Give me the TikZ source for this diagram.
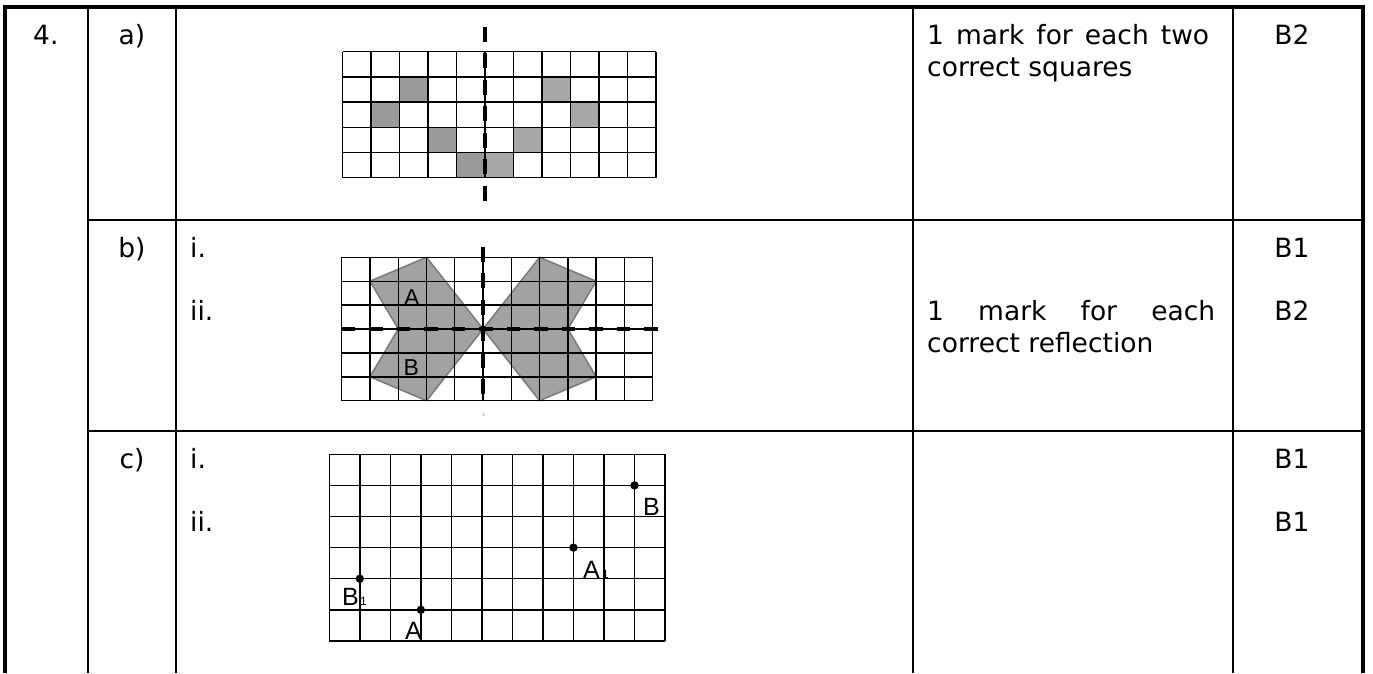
\documentclass[tikz,border=0pt]{standalone}
\usepackage{fontspec}
\setmainfont{DejaVu Sans}
\newfontfamily\labfont{Liberation Sans}
\definecolor{sqdark}{HTML}{9A9A9A}
\definecolor{sqlight}{HTML}{A8A8A8}
\definecolor{polyfill}{HTML}{A2A2A2}
\definecolor{polyedge}{HTML}{7A7A7A}
\begin{document}
\begin{tikzpicture}[x=1pt,y=-1pt,
  txt/.style={font=\fontsize{26.5}{31}\selectfont, inner sep=0pt, anchor=base west},
  txtc/.style={font=\fontsize{26.5}{31}\selectfont, inner sep=0pt, anchor=base},
  lblb/.style={font=\labfont\fontsize{23}{23}\selectfont, inner sep=0pt, anchor=base west},
  lblc/.style={font=\labfont\fontsize{25}{25}\selectfont, inner sep=0pt, anchor=base west},
  sub/.style={font=\labfont\fontsize{12}{12}\selectfont, inner sep=0pt, anchor=base west},
  thickrule/.style={line width=4.5pt, line join=miter},
  thinrule/.style={line width=2pt},
  gridline/.style={line width=1.4pt},
  axisdash/.style={line width=4pt, dash pattern=on 15pt off 11.5pt},
  pt/.style={fill=black}]
\path[use as bounding box, fill=white] (0,0) rectangle (1373,673);

% ---------- table rules ----------
\draw[thickrule] (5,673) -- (5,7) -- (1363,7) -- (1363,673);
\foreach \xx in {88,176,913,1233} \draw[thinrule] (\xx,7) -- (\xx,673);
\foreach \yy in {220,431} \draw[thinrule] (88,\yy) -- (1363,\yy);

% ---------- texts ----------
\node[txt] (q4) at (33,44) {4.};
\node[txtc] (pa) at (132,44) {a)};
\node[txtc] (pb) at (132,257) {b)};
\node[txtc] (pc) at (132,468) {c)};
\node[txt] (bi) at (190,257) {i.};
\node[txt] (bii) at (190,320) {ii.};
\node[txt] (ci) at (190,468) {i.};
\node[txt] (cii) at (190,531) {ii.};
\node[txt] (ta1) at (927,44) {\makebox[282pt][s]{1 mark for each two}};
\node[txt] (ta2) at (927,76) {correct squares};
\node[txt] (tb1) at (927,320) {\makebox[288pt][s]{1 mark for each}};
\node[txt] (tb2) at (927,352) {correct reflection};
\node[txtc] (ma) at (1292,44) {B2};
\node[txtc] (mb1) at (1292,257) {B1};
\node[txtc] (mb2) at (1292,320) {B2};
\node[txtc] (mc1) at (1292,468) {B1};
\node[txtc] (mc2) at (1292,531) {B1};

% ---------- grid a ----------
\begin{scope}[shift={(342.7,51.7)}, x=28.48pt, y=-25.2pt]
  \foreach \c/\r in {2/1,1/2,3/3,4/4}
    \fill[sqdark] (\c,\r) rectangle ++(1,1);
  \foreach \c/\r in {7/1,8/2,6/3,5/4}
    \fill[sqlight] (\c,\r) rectangle ++(1,1);
  \foreach \i in {0,...,11} \draw[gridline] (\i,0) -- (\i,5);
  \foreach \j in {0,...,5} \draw[gridline] (0,\j) -- (11,\j);
\end{scope}
\draw[axisdash] (485,26.7) -- (485,202.7);

% ---------- grid b ----------
\begin{scope}[shift={(341.7,257.3)}, x=28.27pt, y=-23.9pt]
  \filldraw[fill=polyfill, draw=polyedge, line width=1.5pt, line join=round]
    (3,0) -- (5,3) -- (3,6) -- (1,5) -- (2,3) -- (1,1) -- cycle;
  \filldraw[fill=polyfill, draw=polyedge, line width=1.5pt, line join=round]
    (7,0) -- (5,3) -- (7,6) -- (9,5) -- (8,3) -- (9,1) -- cycle;
  \foreach \i in {0,...,11} \draw[gridline] (\i,0) -- (\i,6);
  \foreach \j in {0,...,6} \draw[gridline] (0,\j) -- (11,\j);
\end{scope}
\draw[axisdash] (483,246.7) -- (483,400.7);
\draw[line width=4pt, dash pattern=on 13.5pt off 14pt] (341.7,329) -- (661.7,329);
\draw[line width=3pt, black!15] (483,413) -- (483,416);
\node[lblb] (la) at (404,305.5) {A};
\node[lblb] (lb) at (403.5,375) {B};

% ---------- grid c ----------
\begin{scope}[shift={(329.3,454.3)}, x=30.52pt, y=-31.1pt]
  \foreach \i in {0,...,11} \draw[gridline] (\i,0) -- (\i,6);
  \foreach \j in {0,...,6} \draw[gridline] (0,\j) -- (11,\j);
  \coordinate (cB) at (10,1);
  \coordinate (cA1) at (8,3);
  \coordinate (cB1) at (1,4);
  \coordinate (cA) at (3,5);
\end{scope}
\foreach \p in {cB,cA1,cB1,cA} \fill[pt] (\p) circle[radius=4.2pt];
\node[lblc] (lB) at (643,515) {B};
\node[lblc] (lA1) at (583,578.5) {A};
\node[sub] (lA1s) at (602,578.5) {1};
\node[lblc] (lB1) at (342,605) {B};
\node[sub] (lB1s) at (360,605) {1};
\node[lblc] (lA) at (405,639) {A};
\end{tikzpicture}
\end{document}
